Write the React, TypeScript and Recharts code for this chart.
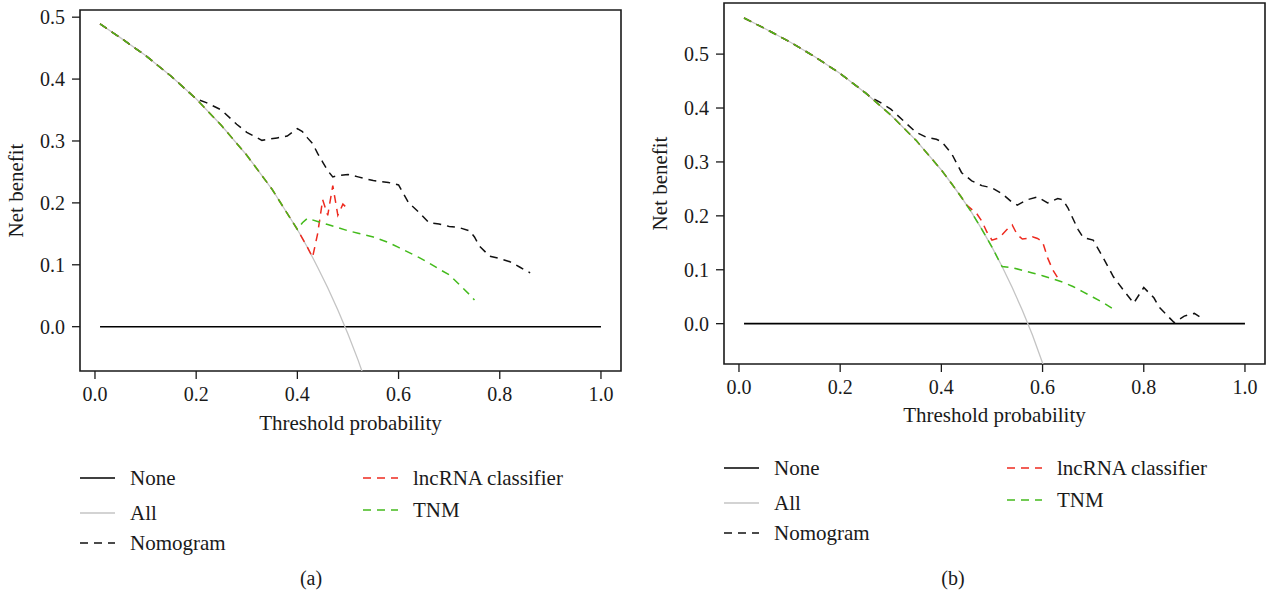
import React from 'react';
import { Label, Legend, Line, LineChart, ReferenceArea, XAxis, YAxis } from 'recharts';

const thresholdTicks = [0, 0.2, 0.4, 0.6, 0.8, 1.0];
const benefitTicks = [0, 0.1, 0.2, 0.3, 0.4, 0.5];

// panel (a)
const aNoneX = [0.01, 1.0];
const aNoneY = [0, 0];
const aAllX = [0.01, 0.05, 0.1, 0.15, 0.2, 0.25, 0.3, 0.35, 0.4, 0.42, 0.44, 0.46, 0.48, 0.5, 0.52, 0.55];
const aAllY = [0.489, 0.467, 0.438, 0.405, 0.368, 0.325, 0.277, 0.222, 0.157, 0.128, 0.096, 0.063, 0.027, -0.012, -0.054, -0.124];
const aNomoX = [0.01, 0.05, 0.1, 0.15, 0.2, 0.22, 0.25, 0.28, 0.3, 0.33, 0.36, 0.38, 0.4, 0.41, 0.42, 0.43, 0.44, 0.45, 0.46, 0.47, 0.48, 0.5, 0.52, 0.55, 0.58, 0.6, 0.62, 0.64, 0.66, 0.68, 0.7, 0.72, 0.74, 0.75, 0.76, 0.78, 0.8, 0.82, 0.84, 0.86];
const aNomoY = [0.489, 0.467, 0.438, 0.405, 0.368, 0.362, 0.35, 0.327, 0.314, 0.301, 0.305, 0.308, 0.32, 0.315, 0.305, 0.296, 0.28, 0.266, 0.252, 0.242, 0.244, 0.246, 0.242, 0.236, 0.233, 0.229, 0.2, 0.185, 0.168, 0.166, 0.162, 0.16, 0.155, 0.145, 0.13, 0.114, 0.11, 0.105, 0.096, 0.087];
const aLncX = [0.01, 0.05, 0.1, 0.15, 0.2, 0.25, 0.3, 0.35, 0.4, 0.42, 0.43, 0.44, 0.45, 0.46, 0.47, 0.48, 0.49, 0.5];
const aLncY = [0.489, 0.467, 0.438, 0.405, 0.368, 0.325, 0.277, 0.222, 0.157, 0.128, 0.112, 0.15, 0.205, 0.18, 0.228, 0.18, 0.198, 0.19];
const aTnmX = [0.01, 0.05, 0.1, 0.15, 0.2, 0.25, 0.3, 0.35, 0.4, 0.41, 0.42, 0.44, 0.46, 0.48, 0.5, 0.52, 0.55, 0.58, 0.6, 0.62, 0.64, 0.66, 0.68, 0.7, 0.72, 0.74, 0.75];
const aTnmY = [0.489, 0.467, 0.438, 0.405, 0.368, 0.325, 0.277, 0.222, 0.157, 0.168, 0.175, 0.17, 0.165, 0.16, 0.155, 0.151, 0.145, 0.136, 0.128, 0.12, 0.112, 0.103, 0.093, 0.084, 0.068, 0.052, 0.043];

// panel (b)
const bNoneX = [0.01, 1.0];
const bNoneY = [0, 0];
const bAllX = [0.01, 0.05, 0.1, 0.15, 0.2, 0.25, 0.3, 0.35, 0.4, 0.42, 0.44, 0.46, 0.48, 0.5, 0.52, 0.54, 0.56, 0.58, 0.6, 0.62];
const bAllY = [0.567, 0.548, 0.523, 0.495, 0.464, 0.428, 0.387, 0.34, 0.285, 0.26, 0.234, 0.206, 0.175, 0.142, 0.106, 0.067, 0.025, -0.021, -0.073, -0.129];
const bNomoX = [0.01, 0.05, 0.1, 0.15, 0.2, 0.25, 0.26, 0.28, 0.3, 0.33, 0.35, 0.37, 0.39, 0.4, 0.42, 0.44, 0.46, 0.48, 0.5, 0.52, 0.54, 0.55, 0.57, 0.59, 0.61, 0.63, 0.64, 0.65, 0.67, 0.68, 0.7, 0.72, 0.74, 0.76, 0.78, 0.8, 0.82, 0.83, 0.86, 0.88, 0.9, 0.91];
const bNomoY = [0.567, 0.548, 0.523, 0.495, 0.464, 0.428, 0.42, 0.41, 0.398, 0.372, 0.355, 0.346, 0.342, 0.338, 0.316, 0.28, 0.265, 0.256, 0.252, 0.241, 0.225, 0.22, 0.23, 0.235, 0.224, 0.232, 0.23, 0.215, 0.175, 0.16, 0.155, 0.122, 0.087, 0.062, 0.038, 0.067, 0.048, 0.031, 0.002, 0.014, 0.019, 0.013];
const bLncX = [0.01, 0.05, 0.1, 0.15, 0.2, 0.25, 0.3, 0.35, 0.4, 0.42, 0.44, 0.45, 0.46, 0.47, 0.48, 0.49, 0.5, 0.51, 0.52, 0.53, 0.54, 0.55, 0.56, 0.57, 0.58, 0.59, 0.6, 0.61, 0.62, 0.63];
const bLncY = [0.567, 0.548, 0.523, 0.495, 0.464, 0.428, 0.387, 0.34, 0.285, 0.26, 0.234, 0.22, 0.212, 0.204, 0.19, 0.17, 0.155, 0.158, 0.165, 0.175, 0.183, 0.165, 0.157, 0.158, 0.161, 0.158, 0.152, 0.122, 0.1, 0.085];
const bTnmX = [0.01, 0.05, 0.1, 0.15, 0.2, 0.25, 0.3, 0.35, 0.4, 0.42, 0.44, 0.46, 0.48, 0.5, 0.52, 0.54, 0.56, 0.58, 0.6, 0.62, 0.64, 0.66, 0.68, 0.7, 0.72, 0.74];
const bTnmY = [0.567, 0.548, 0.523, 0.495, 0.464, 0.428, 0.387, 0.34, 0.285, 0.26, 0.234, 0.206, 0.175, 0.142, 0.106, 0.104, 0.099, 0.094, 0.089, 0.083, 0.077, 0.069, 0.059, 0.049, 0.039, 0.027];

const seriesNames = ['None', 'All', 'Nomogram', 'lncRNA classifier', 'TNM'];

const FONT = "'Liberation Serif', 'DejaVu Serif', serif";
const INK = '#1a1a1a';
const DASH = '8 6';

const styles: Record<string, { color: string; width: number; dash?: string }> = {
  None: { color: '#000000', width: 1.6 },
  All: { color: '#c4c4c4', width: 1.3 },
  Nomogram: { color: '#111111', width: 1.5, dash: DASH },
  'lncRNA classifier': { color: '#ee2a1f', width: 1.5, dash: DASH },
  TNM: { color: '#44bb1c', width: 1.5, dash: DASH },
};

const toPoints = (xs: number[], ys: number[]) => xs.map((x, i) => ({ x, y: ys[i] }));

const panelA = [
  toPoints(aNoneX, aNoneY),
  toPoints(aAllX, aAllY),
  toPoints(aNomoX, aNomoY),
  toPoints(aLncX, aLncY),
  toPoints(aTnmX, aTnmY),
];
const panelB = [
  toPoints(bNoneX, bNoneY),
  toPoints(bAllX, bAllY),
  toPoints(bNomoX, bNomoY),
  toPoints(bLncX, bLncY),
  toPoints(bTnmX, bTnmY),
];

const xDomain: [number, number] = [-0.0296, 1.0396];

// legend rows: [name, column, row y]
const legendLayout: [string, number, number][] = [
  ['None', 0, 38],
  ['All', 0, 73],
  ['Nomogram', 0, 103],
  ['lncRNA classifier', 1, 38],
  ['TNM', 1, 70],
];

const LegendBlock = ({ plotLeft }: { plotLeft: number }) => (
  <div style={{ position: 'relative', width: '100%', height: 130 }}>
    {legendLayout.map(([name, col, y]) => {
      const st = styles[name];
      const x0 = plotLeft + col * 283;
      return (
        <div key={name}>
          <svg width={36} height={6} style={{ position: 'absolute', left: x0, top: y - 3 }}>
            <line x1={0} x2={35} y1={3} y2={3} stroke={st.color} strokeWidth={st.width} strokeDasharray={st.dash} />
          </svg>
          <div
            style={{
              position: 'absolute',
              left: x0 + 50,
              top: y - 12,
              lineHeight: '24px',
              fontFamily: FONT,
              fontSize: 21,
              color: INK,
              whiteSpace: 'nowrap',
            }}
          >
            {name}
          </div>
        </div>
      );
    })}
  </div>
);

interface PanelProps {
  left: number;
  width: number;
  margin: { top: number; right: number; bottom: number; left: number };
  yAxisWidth: number;
  yDomain: [number, number];
  data: { x: number; y: number }[][];
  yLabelOffset: number;
  titleOffset: number;
  legendTop: number;
}

const tickStyle = { fontFamily: FONT, fontSize: 20, fill: INK };
const titleStyle = { fontFamily: FONT, fontSize: 21, fill: INK };

const Panel = ({ left, width, margin, yAxisWidth, yDomain, data, yLabelOffset, titleOffset, legendTop }: PanelProps) => (
  <div style={{ position: 'absolute', left, top: 0 }}>
    <LineChart width={width} height={596} margin={margin}>
      <XAxis
        type='number'
        dataKey='x'
        domain={xDomain}
        ticks={thresholdTicks}
        allowDataOverflow
        interval={0}
        height={60}
        axisLine={false}
        tickLine={{ stroke: INK, strokeWidth: 1.3 }}
        tickSize={8}
        tickMargin={8}
        tick={tickStyle}
        tickFormatter={(v: number) => v.toFixed(1)}
      >
        <Label value='Threshold probability' position='insideBottom' offset={titleOffset} style={titleStyle} />
      </XAxis>
      <YAxis
        type='number'
        dataKey='y'
        domain={yDomain}
        ticks={benefitTicks}
        allowDataOverflow
        interval={0}
        width={yAxisWidth}
        axisLine={false}
        tickLine={{ stroke: INK, strokeWidth: 1.3 }}
        tickSize={8}
        tickMargin={7}
        tick={tickStyle}
        tickFormatter={(v: number) => v.toFixed(1)}
      >
        <Label
          value='Net benefit'
          angle={-90}
          position='insideLeft'
          offset={yLabelOffset}
          style={{ ...titleStyle, textAnchor: 'middle' }}
        />
      </YAxis>
      {data.map((pts, i) => {
        const st = styles[seriesNames[i]];
        return (
          <Line
            key={seriesNames[i]}
            name={seriesNames[i]}
            data={pts}
            dataKey='y'
            type='linear'
            stroke={st.color}
            strokeWidth={st.width}
            strokeDasharray={st.dash}
            dot={false}
            activeDot={false}
            isAnimationActive={false}
          />
        );
      })}
      <ReferenceArea
        x1={xDomain[0]}
        x2={xDomain[1]}
        y1={yDomain[0]}
        y2={yDomain[1]}
        fill='none'
        fillOpacity={0}
        stroke={INK}
        strokeWidth={1.6}
      />
      <Legend
        layout='horizontal'
        verticalAlign='middle'
        align='center'
        wrapperStyle={{ left: 0, top: legendTop, width, height: 130 }}
        content={() => <LegendBlock plotLeft={margin.left + yAxisWidth} />}
      />
    </LineChart>
  </div>
);

const captionStyle: React.CSSProperties = {
  position: 'absolute',
  top: 566,
  width: 60,
  textAlign: 'center',
  fontFamily: FONT,
  fontSize: 20,
  lineHeight: '24px',
  color: INK,
};

export default function App() {
  return (
    <div style={{ position: 'absolute', left: 0, top: 0, width: 1268, height: 596, background: '#fff' }}>
      <Panel
        left={0}
        width={634}
        margin={{ top: 10, right: 13, bottom: 165, left: 0 }}
        yAxisWidth={80}
        yDomain={[-0.0716, 0.5116]}
        data={panelA}
        yLabelOffset={16}
        titleOffset={1}
        legendTop={440}
      />
      <Panel
        left={640}
        width={628}
        margin={{ top: 3, right: 3, bottom: 172, left: 0 }}
        yAxisWidth={84}
        yDomain={[-0.0748, 0.5948]}
        data={panelB}
        yLabelOffset={20}
        titleOffset={2}
        legendTop={430}
      />
      <div style={{ ...captionStyle, left: 281 }}>(a)</div>
      <div style={{ ...captionStyle, left: 923 }}>(b)</div>
    </div>
  );
}
